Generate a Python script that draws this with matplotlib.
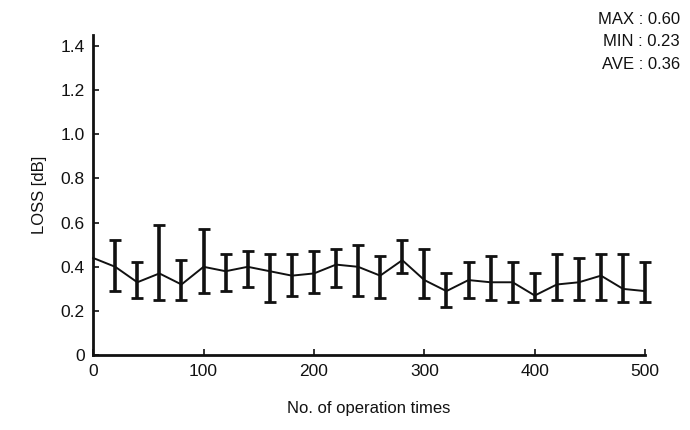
import matplotlib
matplotlib.use("Agg")
import matplotlib.pyplot as plt

# operation count, mean loss and min/max range (dB)
ops = [0, 20, 40, 60, 80, 100, 120, 140, 160, 180, 200, 220, 240,
       260, 280, 300, 320, 340, 360, 380, 400, 420, 440, 460, 480, 500]
loss = [0.44, 0.40, 0.33, 0.37, 0.32, 0.40, 0.38, 0.40, 0.38, 0.36, 0.37, 0.41, 0.40,
        0.36, 0.43, 0.34, 0.29, 0.34, 0.33, 0.33, 0.27, 0.32, 0.33, 0.36, 0.30, 0.29]
loss_hi = [0.44, 0.52, 0.42, 0.59, 0.43, 0.57, 0.46, 0.47, 0.46, 0.46, 0.47, 0.48, 0.50,
           0.45, 0.52, 0.48, 0.37, 0.42, 0.45, 0.42, 0.37, 0.46, 0.44, 0.46, 0.46, 0.42]
loss_lo = [0.44, 0.29, 0.26, 0.25, 0.25, 0.28, 0.29, 0.31, 0.24, 0.27, 0.28, 0.31, 0.27,
           0.26, 0.37, 0.26, 0.22, 0.26, 0.25, 0.24, 0.25, 0.25, 0.25, 0.25, 0.24, 0.24]
stats = ["MAX : 0.60", "MIN : 0.23", "AVE : 0.36"]
yticks = [0, 0.2, 0.4, 0.6, 0.8, 1.0, 1.2, 1.4]
xticks = [0, 100, 200, 300, 400, 500]

plt.rcParams["font.family"] = ["Liberation Sans", "DejaVu Sans"]
INK = "#111111"

fig = plt.figure(figsize=(6.9, 4.3), dpi=100)
ax = fig.add_axes([0.135, 0.174, 0.80, 0.745])

err_lo = [m - l for m, l in zip(loss, loss_lo)]
err_hi = [h - m for m, h in zip(loss, loss_hi)]
ax.plot(ops, loss, color=INK, lw=1.4, zorder=3, clip_on=False)
eb = ax.errorbar(ops[1:], loss[1:], yerr=[err_lo[1:], err_hi[1:]], fmt="none",
                 ecolor=INK, elinewidth=2.6, capsize=4, capthick=2.0, zorder=3)
for art in eb.lines[1] + eb.lines[2]:
    art.set_clip_on(False)

ax.set_xlim(0, 500)
ax.set_ylim(0, 1.45)
ax.set_xticks(xticks)
ax.set_yticks(yticks)
ax.set_yticklabels(["0"] + [f"{v:.1f}" for v in yticks[1:]])
ax.tick_params(direction="in", length=4, width=1.2, labelsize=12.5,
               colors=INK, pad=6)
for sp in ("top", "right"):
    ax.spines[sp].set_visible(False)
for sp in ("left", "bottom"):
    ax.spines[sp].set_linewidth(2.0)
    ax.spines[sp].set_color(INK)

ax.set_xlabel("No. of operation times", fontsize=12, color=INK, labelpad=16)
ax.set_ylabel("LOSS [dB]", fontsize=12, color=INK, labelpad=10)

for i, s in enumerate(stats):
    fig.text(0.985, 0.955 - i * 0.052, s, ha="right", va="center",
             fontsize=12, color=INK)

fig.savefig("out.png", facecolor="white")
